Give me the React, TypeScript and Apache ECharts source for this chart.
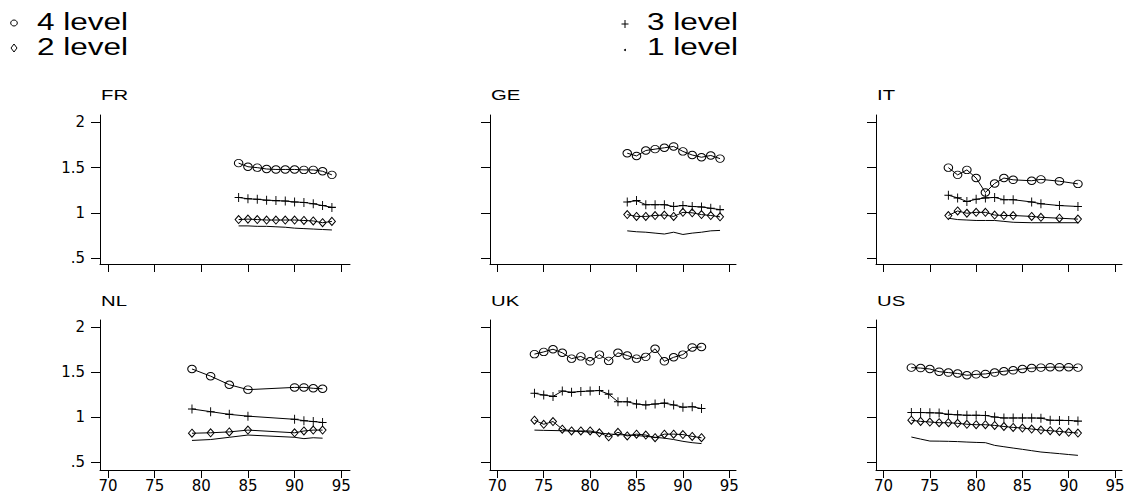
import React, { useEffect, useRef } from "react";
import * as echarts from "echarts";

// ---------- data ----------
const PANELS = ["FR", "GE", "IT", "NL", "UK", "US"];
const LEVEL_NAMES = ["4 level", "3 level", "2 level", "1 level"];
const X_TICKS = [70, 75, 80, 85, 90, 95];
const Y_TICKS = [0.5, 1, 1.5, 2];
const Y_TICK_LABELS = [".5", "1", "1.5", "2"];

const yearsFR = [84, 85, 86, 87, 88, 89, 90, 91, 92, 93, 94];
const fr4 = [1.55, 1.51, 1.5, 1.485, 1.48, 1.48, 1.48, 1.475, 1.475, 1.46, 1.42];
const fr3 = [1.17, 1.155, 1.15, 1.14, 1.135, 1.13, 1.12, 1.115, 1.1, 1.08, 1.06];
const fr2 = [0.925, 0.93, 0.925, 0.92, 0.92, 0.92, 0.92, 0.915, 0.91, 0.89, 0.905];
const fr1 = [0.855, 0.855, 0.85, 0.85, 0.845, 0.84, 0.83, 0.825, 0.82, 0.815, 0.81];

const yearsGE = [84, 85, 86, 87, 88, 89, 90, 91, 92, 93, 94];
const ge4 = [1.66, 1.63, 1.69, 1.705, 1.72, 1.735, 1.68, 1.64, 1.615, 1.635, 1.6];
const ge3 = [1.12, 1.135, 1.09, 1.09, 1.09, 1.07, 1.08, 1.07, 1.065, 1.05, 1.035];
const ge2 = [0.98, 0.96, 0.96, 0.97, 0.975, 0.96, 1.005, 1.0, 0.98, 0.97, 0.955];
const ge1 = [0.8, 0.79, 0.785, 0.775, 0.765, 0.785, 0.76, 0.775, 0.785, 0.8, 0.805];

const yearsIT = [77, 78, 79, 80, 81, 82, 83, 84, 86, 87, 89, 91];
const it4 = [1.5, 1.42, 1.475, 1.385, 1.225, 1.325, 1.385, 1.365, 1.355, 1.37, 1.35, 1.32];
const it3 = [1.195, 1.165, 1.125, 1.15, 1.165, 1.17, 1.145, 1.145, 1.12, 1.1, 1.08, 1.07];
const it2 = [0.97, 1.02, 0.995, 1.005, 1.005, 0.975, 0.97, 0.97, 0.96, 0.95, 0.94, 0.93];
const it1 = [0.94, 0.925, 0.92, 0.915, 0.915, 0.915, 0.905, 0.895, 0.89, 0.89, 0.89, 0.89];

const yearsNL = [79, 81, 83, 85, 90, 91, 92, 93];
const nl4 = [1.535, 1.455, 1.36, 1.305, 1.33, 1.33, 1.32, 1.315];
const nl3 = [1.09, 1.06, 1.03, 1.01, 0.975, 0.96, 0.95, 0.94];
const nl2 = [0.82, 0.825, 0.835, 0.855, 0.825, 0.845, 0.855, 0.855];
const nl1 = [0.74, 0.75, 0.775, 0.8, 0.775, 0.76, 0.77, 0.765];

const yearsUK = [74, 75, 76, 77, 78, 79, 80, 81, 82, 83, 84, 85, 86, 87, 88, 89, 90, 91, 92];
const uk4 = [1.7, 1.725, 1.755, 1.715, 1.65, 1.675, 1.62, 1.695, 1.625, 1.715, 1.685, 1.65, 1.67, 1.76, 1.62, 1.665, 1.695, 1.775, 1.78];
const uk3 = [1.265, 1.245, 1.23, 1.29, 1.275, 1.285, 1.29, 1.295, 1.255, 1.17, 1.17, 1.145, 1.135, 1.145, 1.155, 1.135, 1.11, 1.115, 1.095];
const uk2 = [0.965, 0.92, 0.95, 0.865, 0.845, 0.845, 0.845, 0.825, 0.78, 0.83, 0.79, 0.81, 0.8, 0.77, 0.81, 0.81, 0.805, 0.785, 0.77];
const uk1 = [0.855, 0.852, 0.85, 0.848, 0.845, 0.84, 0.832, 0.822, 0.812, 0.805, 0.8, 0.795, 0.785, 0.775, 0.765, 0.75, 0.73, 0.715, 0.705];

const yearsUS = [73, 74, 75, 76, 77, 78, 79, 80, 81, 82, 83, 84, 85, 86, 87, 88, 89, 90, 91];
const us4 = [1.55, 1.545, 1.535, 1.505, 1.495, 1.485, 1.465, 1.475, 1.48, 1.495, 1.51, 1.52, 1.535, 1.545, 1.55, 1.555, 1.555, 1.555, 1.55];
const us3 = [1.05, 1.05, 1.048, 1.045, 1.03, 1.025, 1.02, 1.02, 1.018, 1.0, 0.99, 0.99, 0.99, 0.99, 0.988, 0.965, 0.963, 0.962, 0.955];
const us2 = [0.965, 0.952, 0.945, 0.937, 0.937, 0.93, 0.92, 0.915, 0.915, 0.907, 0.895, 0.885, 0.878, 0.867, 0.856, 0.848, 0.84, 0.83, 0.822];
const us1 = [0.778, 0.755, 0.733, 0.732, 0.73, 0.727, 0.722, 0.718, 0.715, 0.685, 0.67, 0.655, 0.641, 0.626, 0.611, 0.602, 0.593, 0.583, 0.574];

const PANEL_YEARS = [yearsFR, yearsGE, yearsIT, yearsNL, yearsUK, yearsUS];
const PANEL_VALUES = [
  [fr4, fr3, fr2, fr1],
  [ge4, ge3, ge2, ge1],
  [it4, it3, it2, it1],
  [nl4, nl3, nl2, nl1],
  [uk4, uk3, uk2, uk1],
  [us4, us3, us2, us1],
];

// ---------- layout ----------
const COL_LEFT = [100, 490, 876];
const COL_WIDTH = [250, 246, 246];
const COL_XRANGE = [
  [69.14, 95.94],
  [69.21, 95.72],
  [69.18, 95.76],
];
const ROW_TOP = [115, 320];
const ROW_HEIGHT = [149, 150];
const ROW_YRANGE = [
  [0.433, 2.083],
  [0.411, 2.08],
];
const TITLE_Y = [95, 301];

const ELLIPSE = "path://M0,5A5,5,0,1,1,10,5A5,5,0,1,1,0,5Z";
const PLUS = "path://M0,5L10,5M5,0L5,10";
const SYMBOLS = [ELLIPSE, PLUS, "diamond", "none"];
const SYMBOL_SIZES = [
  [8.5, 7.5],
  [8, 9],
  [7, 8],
  [1, 1],
];

const TEXT_FONT = '"Liberation Sans", Arial, Helvetica, sans-serif';

function buildOption() {
  const grids: any[] = [];
  const xAxes: any[] = [];
  const yAxes: any[] = [];
  const series: any[] = [];
  const graphics: any[] = [];

  PANELS.forEach((name, i) => {
    const row = Math.floor(i / 3);
    const col = i % 3;
    grids.push({
      left: COL_LEFT[col],
      top: ROW_TOP[row],
      width: COL_WIDTH[col],
      height: ROW_HEIGHT[row],
      containLabel: false,
    });
    xAxes.push({
      type: "value",
      gridIndex: i,
      min: COL_XRANGE[col][0],
      max: COL_XRANGE[col][1],
      axisLine: { show: true, onZero: false, lineStyle: { color: "#000", width: 1 } },
      axisTick: {
        show: true,
        inside: false,
        length: 8,
        customValues: X_TICKS,
        lineStyle: { color: "#000", width: 1 },
      },
      axisLabel: {
        show: row === 1,
        customValues: X_TICKS,
        color: "#000",
        fontFamily: "DejaVu Sans",
        fontSize: 15,
        margin: 8,
        formatter: (v: number) => String(v),
      },
      splitLine: { show: false },
    });
    yAxes.push({
      type: "value",
      gridIndex: i,
      min: ROW_YRANGE[row][0],
      max: ROW_YRANGE[row][1],
      axisLine: { show: true, onZero: false, lineStyle: { color: "#000", width: 1 } },
      axisTick: {
        show: true,
        inside: false,
        length: 9,
        customValues: Y_TICKS,
        lineStyle: { color: "#000", width: 1 },
      },
      axisLabel: {
        show: col === 0,
        customValues: Y_TICKS,
        color: "#000",
        fontFamily: "DejaVu Sans",
        fontSize: 15,
        margin: 15,
        formatter: (v: number) => {
          const k = Y_TICKS.findIndex((t) => Math.abs(t - v) < 1e-6);
          return k >= 0 ? Y_TICK_LABELS[k] : "";
        },
      },
      splitLine: { show: false },
    });

    const years = PANEL_YEARS[i];
    PANEL_VALUES[i].forEach((vals, l) => {
      series.push({
        type: "line",
        name: name + " " + LEVEL_NAMES[l],
        xAxisIndex: i,
        yAxisIndex: i,
        data: years.map((y, k) => [y, vals[k]]),
        symbol: SYMBOLS[l],
        symbolSize: SYMBOL_SIZES[l],
        showSymbol: l !== 3,
        lineStyle: { color: "#000", width: 1 },
        itemStyle: { color: "rgba(0,0,0,0)", borderColor: "#000", borderWidth: 1 },
        emphasis: { disabled: true },
        silent: true,
        z: 3,
      });
    });

    graphics.push({
      type: "text",
      x: COL_LEFT[col] + 1,
      y: TITLE_Y[row],
      scaleX: 1.45,
      style: {
        text: name,
        font: "14px " + TEXT_FONT,
        fill: "#000",
        textVerticalAlign: "middle",
      },
    });
  });

  // legend (drawn as graphic)
  const legendText = (text: string, x: number, y: number) => ({
    type: "text",
    x,
    y,
    scaleX: 1.37,
    style: {
      text,
      font: "23px " + TEXT_FONT,
      fill: "#000",
      textVerticalAlign: "middle",
    },
  });
  graphics.push(legendText(LEVEL_NAMES[0], 37, 22));
  graphics.push(legendText(LEVEL_NAMES[2], 37, 47));
  graphics.push(legendText(LEVEL_NAMES[1], 647, 22));
  graphics.push(legendText(LEVEL_NAMES[3], 647, 47));
  graphics.push({
    type: "ellipse",
    shape: { cx: 14, cy: 23, rx: 3.3, ry: 3 },
    style: { fill: "none", stroke: "#000", lineWidth: 1 },
  });
  graphics.push({
    type: "polygon",
    shape: {
      points: [
        [14, 44],
        [17, 48],
        [14, 52],
        [11, 48],
      ],
    },
    style: { fill: "none", stroke: "#000", lineWidth: 1 },
  });
  graphics.push({
    type: "line",
    shape: { x1: 621.5, y1: 24, x2: 628.5, y2: 24 },
    style: { stroke: "#000", lineWidth: 1 },
  });
  graphics.push({
    type: "line",
    shape: { x1: 625, y1: 20, x2: 625, y2: 28 },
    style: { stroke: "#000", lineWidth: 1 },
  });
  graphics.push({
    type: "circle",
    shape: { cx: 625, cy: 50, r: 1 },
    style: { fill: "#000" },
  });

  return {
    animation: false,
    backgroundColor: "#fff",
    textStyle: { fontFamily: TEXT_FONT },
    grid: grids,
    xAxis: xAxes,
    yAxis: yAxes,
    series,
    graphic: graphics,
  };
}

export default function App() {
  const ref = useRef<HTMLDivElement>(null);
  useEffect(() => {
    if (!ref.current) return;
    const chart = echarts.init(ref.current, null, { renderer: "svg" });
    chart.setOption(buildOption() as any);
    return () => chart.dispose();
  }, []);
  return (
    <div
      ref={ref}
      style={{ position: "absolute", left: 0, top: 0, width: 1134, height: 502, background: "#fff" }}
    />
  );
}
